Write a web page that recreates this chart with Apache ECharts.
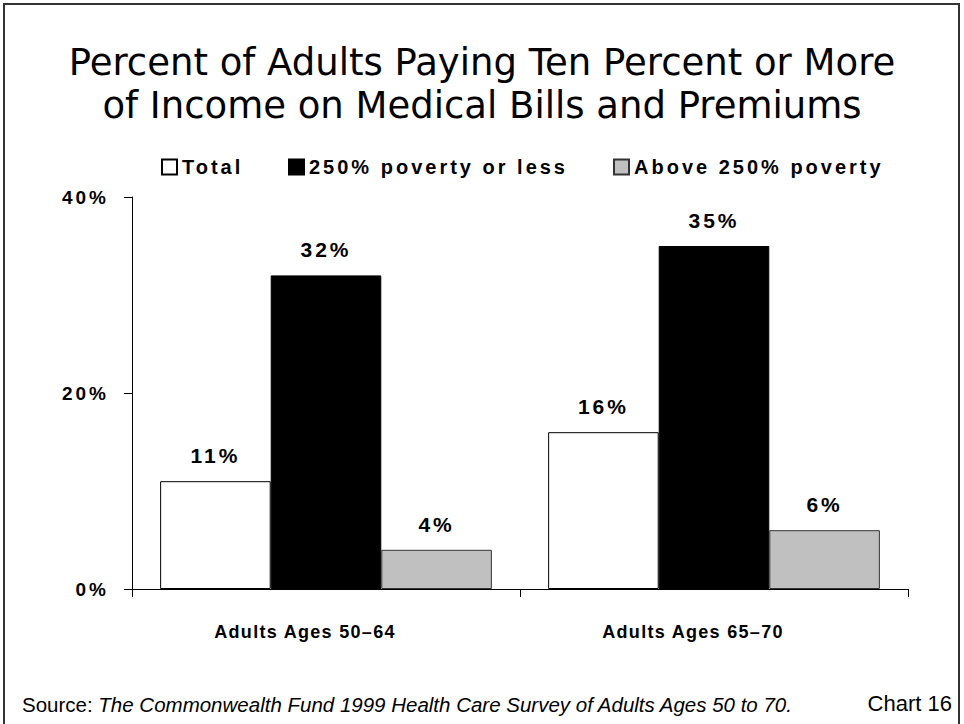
<!DOCTYPE html>
<html>
<head>
<meta charset="utf-8">
<script src="https://cdn.jsdelivr.net/npm/echarts@6/dist/echarts.min.js"></script>
<style>
  html, body { margin: 0; padding: 0; background: #fff; }
  #chart { width: 964px; height: 724px; }
  /* tracked-out bold labels */
  #chart svg text[style*="bold"] { letter-spacing: 3px; }
  #chart svg text[style*="bold"][style*="18px"] { letter-spacing: 1.3px; }
</style>
</head>
<body>
<div id="chart"></div>
<script>
// Age groups on the x axis
const categories = ['Adults Ages 50\u201364', 'Adults Ages 65\u201370'];
// Share of adults spending 10%+ of income on medical bills and premiums
const totalValues = [11, 16];
const lowIncomeValues = [32, 35];
const highIncomeValues = [4, 6];
const seriesNames = ['Total', '250% poverty or less', 'Above 250% poverty'];
const yTicks = [0, 20, 40];

const boldFont = 'Liberation Sans';

const chart = echarts.init(document.getElementById('chart'), null, { renderer: 'svg' });

const valueLabel = {
  show: true,
  position: 'top',
  distance: 15,
  formatter: p => p.value + '%',
  fontFamily: boldFont,
  fontWeight: 'bold',
  fontSize: 21,
  color: '#000'
};

const legendText = {
  fontFamily: boldFont,
  fontWeight: 'bold',
  fontSize: 20,
  color: '#000'
};

function legendAt(name, left) {
  return {
    top: 157,
    left: left,
    padding: 0,
    itemWidth: 15,
    itemHeight: 15,
    icon: 'rect',
    data: [name],
    textStyle: legendText
  };
}

chart.setOption({
  animation: false,
  backgroundColor: '#fff',
  title: {
    text: 'Percent of Adults Paying Ten Percent or More\nof Income on Medical Bills and Premiums',
    left: 'center',
    top: 36,
    textStyle: {
      fontFamily: 'DejaVu Sans',
      fontWeight: 'normal',
      fontSize: 37,
      lineHeight: 43,
      color: '#000'
    }
  },
  legend: [
    legendAt(seriesNames[0], 161),
    legendAt(seriesNames[1], 288),
    legendAt(seriesNames[2], 613)
  ],
  grid: {
    left: 132,
    right: 56,
    top: 197,
    bottom: 135,
    containLabel: false
  },
  xAxis: {
    type: 'category',
    data: categories,
    axisLine: { lineStyle: { color: '#000', width: 1 } },
    axisTick: { show: true, length: 8, lineStyle: { color: '#000' } },
    axisLabel: {
      margin: 34,
      padding: [0, 42, 0, 0],
      fontFamily: boldFont,
      fontWeight: 'bold',
      fontSize: 18,
      color: '#000'
    }
  },
  yAxis: {
    type: 'value',
    min: yTicks[0],
    max: yTicks[yTicks.length - 1],
    interval: 20,
    splitLine: { show: false },
    axisLine: { show: true, lineStyle: { color: '#000', width: 1 } },
    axisTick: { show: true, length: 8, lineStyle: { color: '#000' } },
    axisLabel: {
      margin: 23,
      formatter: v => v + '%',
      fontFamily: boldFont,
      fontWeight: 'bold',
      fontSize: 19,
      color: '#000'
    }
  },
  series: [
    {
      name: seriesNames[0],
      type: 'bar',
      data: totalValues,
      barGap: '0%',
      barCategoryGap: '14.5%',
      itemStyle: { color: '#fff', borderColor: '#000', borderWidth: 1 },
      label: valueLabel
    },
    {
      name: seriesNames[1],
      type: 'bar',
      data: lowIncomeValues,
      itemStyle: { color: '#000', borderColor: '#000', borderWidth: 1 },
      label: valueLabel
    },
    {
      name: seriesNames[2],
      type: 'bar',
      data: highIncomeValues,
      itemStyle: { color: '#c0c0c0', borderColor: '#333', borderWidth: 1 },
      label: valueLabel
    }
  ],
  graphic: [
    {
      type: 'rect',
      shape: { x: 4, y: 4, width: 955, height: 740 },
      style: { fill: 'none', stroke: '#333', lineWidth: 2 },
      silent: true
    },
    {
      type: 'text',
      left: 22,
      top: 694,
      style: {
        text: '{n|Source: }{i|The Commonwealth Fund 1999 Health Care Survey of Adults Ages 50 to 70.}',
        rich: {
          n: { fontFamily: 'Liberation Sans', fontSize: 20.5, fill: '#000' },
          i: { fontFamily: 'Liberation Sans', fontSize: 20.5, fontStyle: 'italic', fill: '#000' }
        }
      }
    },
    {
      type: 'text',
      right: 12,
      top: 692,
      style: {
        text: 'Chart 16',
        fontFamily: 'Liberation Sans',
        fontSize: 22,
        fill: '#000'
      }
    }
  ]
});
</script>
</body>
</html>
